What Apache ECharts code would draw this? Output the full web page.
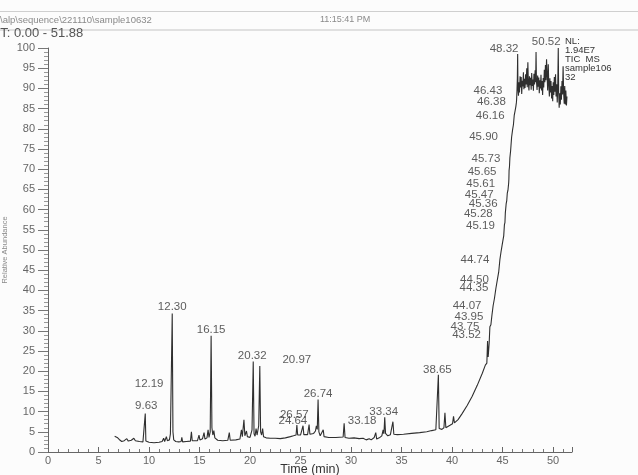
<!DOCTYPE html>
<html>
<head>
<meta charset="utf-8">
<script src="https://cdn.jsdelivr.net/npm/echarts@6/dist/echarts.min.js"></script>
<style>
html,body{margin:0;padding:0;background:#fcfcfc;}
#chart{width:638px;height:475px;}
</style>
</head>
<body>
<div id="chart"></div>
<script>
// TIC trace of sample 10632: retention time (min) and relative abundance (%)
const traceTime = [
  6.60, 6.85, 7.05, 7.30, 7.55, 7.80, 7.95, 8.25, 8.50, 8.65, 9.05, 9.40, 9.57, 9.63, 9.69,
  10.00, 10.50, 11.00, 11.30, 11.45, 11.55, 11.72, 11.82, 12.02, 12.12, 12.19, 12.30, 12.37, 12.45,
  12.65, 12.95, 13.18, 13.25, 13.33, 13.70, 14.10, 14.20, 14.28, 14.80, 14.95, 15.04, 15.30, 15.45,
  15.54, 15.74, 15.85, 15.94, 16.06, 16.15, 16.23, 16.32, 16.42, 16.52, 16.80, 17.30, 17.80, 17.95,
  18.04, 18.60, 19.00, 19.15, 19.24, 19.40, 19.49, 19.65, 19.74, 20.00, 20.20, 20.32, 20.40, 20.50,
  20.60, 20.70, 20.86, 20.97, 21.05, 21.15, 21.25, 21.34, 21.60, 22.00, 22.50, 23.00, 23.50, 24.00,
  24.30, 24.56, 24.64, 24.72, 25.00, 25.25, 25.33, 25.70, 25.85, 25.93, 26.30, 26.48, 26.57, 26.66,
  26.74, 26.82, 26.95, 27.25, 27.33, 27.80, 28.50, 29.22, 29.32, 29.41, 29.80, 30.30, 30.80, 31.20,
  31.50, 31.80, 32.00, 32.30, 32.45, 32.54, 32.80, 33.05, 33.18, 33.26, 33.34, 33.42, 33.55, 33.64,
  33.90, 34.05, 34.15, 34.24, 34.60, 35.20, 36.00, 36.80, 37.50, 38.00, 38.40, 38.57, 38.65, 38.73,
  39.00, 39.20, 39.30, 39.39, 39.80, 40.05, 40.15, 40.24, 40.60, 41.00, 41.50, 42.00, 42.50, 43.00,
  43.30, 43.45, 43.52, 43.58, 43.68, 43.75, 43.85, 43.95, 44.01, 44.07, 44.20, 44.35, 44.42, 44.50,
  44.62, 44.74, 44.85, 44.95, 45.05, 45.12, 45.19, 45.24, 45.28, 45.32, 45.36, 45.42, 45.47, 45.54,
  45.61, 45.63, 45.65, 45.69, 45.73, 45.80, 45.90, 46.00, 46.08, 46.16, 46.25, 46.32, 46.38, 46.40,
  46.43, 46.47, 46.50, 46.53, 46.58, 46.63, 46.68, 46.74, 46.79, 46.85, 46.90, 46.96, 47.01, 47.07,
  47.12, 47.18, 47.23, 47.29, 47.34, 47.40, 47.45, 47.51, 47.56, 47.62, 47.67, 47.73, 47.78, 47.84,
  47.89, 47.95, 48.00, 48.06, 48.11, 48.17, 48.23, 48.28, 48.32, 48.36, 48.42, 48.48, 48.53, 48.59,
  48.64, 48.70, 48.75, 48.81, 48.86, 48.92, 48.97, 49.03, 49.08, 49.14, 49.19, 49.25, 49.30, 49.36,
  49.42, 49.47, 49.53, 49.58, 49.64, 49.69, 49.75, 49.80, 49.86, 49.91, 49.97, 50.02, 50.08, 50.13,
  50.19, 50.25, 50.30, 50.36, 50.42, 50.47, 50.52, 50.56, 50.61, 50.67, 50.72, 50.78, 50.83, 50.89,
  50.94, 51.00, 51.05, 51.11, 51.16, 51.22, 51.27, 51.33, 51.38
];
const traceAbund = [
  3.9, 3.6, 3.1, 2.6, 2.8, 3.3, 2.7, 2.9, 3.4, 2.8, 2.6, 2.5, 2.7, 9.5, 2.7,
  2.4, 2.3, 2.4, 2.6, 3.4, 2.6, 3.8, 2.8, 3.0, 4.5, 16.0, 34.3, 5.0, 3.0,
  2.6, 2.5, 2.6, 3.6, 2.5, 2.6, 2.7, 5.0, 2.8, 2.8, 4.2, 3.0, 3.3, 4.8,
  3.2, 3.5, 5.5, 3.6, 5.0, 28.8, 6.0, 4.2, 5.3, 3.5, 2.9, 2.8, 2.9, 4.8,
  2.9, 3.0, 3.2, 5.5, 3.8, 8.0, 4.0, 5.2, 3.8, 3.6, 5.5, 22.4, 4.5, 3.9,
  5.8, 4.2, 6.5, 21.3, 5.0, 4.2, 5.8, 3.8, 3.5, 3.4, 3.4, 3.3, 3.5, 3.8,
  4.0, 4.2, 6.7, 4.2, 4.2, 6.5, 4.3, 4.3, 6.8, 4.4, 4.6, 5.2, 6.5, 5.6,
  13.0, 5.0, 4.0, 5.5, 3.8, 3.6, 3.6, 3.7, 7.1, 3.6, 3.4, 3.5, 3.3, 3.4,
  3.0, 3.3, 3.0, 3.6, 4.8, 3.2, 3.5, 4.0, 5.5, 4.5, 8.6, 4.6, 4.8, 4.0,
  4.3, 4.5, 7.5, 4.4, 4.3, 4.4, 4.6, 4.8, 5.0, 5.3, 5.5, 5.6, 19.1, 5.8,
  5.6, 6.0, 9.7, 6.0, 6.6, 7.0, 8.8, 7.2, 8.0, 9.5, 11.5, 13.8, 16.5, 19.5,
  21.5, 22.0, 27.5, 23.5, 27.0, 31.0, 31.5, 33.8, 33.5, 36.2, 38.0, 40.6, 40.8, 42.8,
  44.5, 47.6, 49.5, 51.0, 52.5, 53.5, 56.3, 56.8, 59.2, 59.6, 61.4, 62.2, 64.0, 64.8,
  66.6, 67.5, 69.7, 70.6, 72.8, 74.5, 77.9, 79.8, 81.0, 83.3, 84.5, 85.5, 86.6, 87.5,
  89.3, 92.5, 98.5, 90.0, 88.2, 91.5, 89.0, 93.0, 90.2, 92.8, 88.6, 91.9, 90.5, 94.0,
  89.8, 92.4, 90.1, 93.5, 91.0, 95.0, 90.3, 96.5, 91.2, 89.5, 93.0, 90.8, 92.6, 89.7,
  93.8, 90.6, 92.2, 89.4, 93.6, 91.0, 94.5, 91.5, 99.0, 91.8, 89.6, 93.2, 90.4, 92.7,
  88.8, 92.0, 90.0, 93.4, 89.5, 91.8, 88.4, 92.6, 90.2, 94.6, 91.5, 95.8, 92.0, 97.2,
  93.0, 89.5, 96.0, 91.2, 88.0, 92.5, 89.0, 91.8, 87.5, 90.6, 86.8, 91.5, 88.4, 92.8,
  89.2, 93.5, 88.0, 91.0, 86.5, 90.4, 100.0, 89.0, 85.2, 88.8, 86.0, 90.5, 87.2, 91.8,
  88.5, 95.5, 89.0, 86.2, 90.6, 86.0, 89.5, 85.8, 88.0
];

// Retention times that carry a peak label
const peakRT = [
  9.63, 12.19, 12.30, 16.15, 20.32, 20.97, 24.64, 26.57, 26.74, 33.18, 33.34, 38.65,
  43.52, 43.75, 43.95, 44.07, 44.35, 44.50, 44.74, 45.19, 45.28, 45.36, 45.47, 45.61,
  45.65, 45.73, 45.90, 46.16, 46.38, 46.43, 48.32, 50.52
];

// Axis extents and tick steps
const timeRange = [0, 51.88];
const timeStep = 5;
const abundRange = [0, 100];
const abundStep = 5;

// Header and annotation text
const headerPath = '\\alp\\sequence\\221110\\sample10632';
const headerTime = '11:15:41 PM';
const rtRangeText = 'RT: 0.00 - 51.88';
const infoLines = ['NL:', '1.94E7', 'TIC  MS', 'sample106', '32'];

// Where each peak label sits relative to its apex (pixels)
const labelShift = {
  '9.63': [1, -8], '12.19': [-22, -4], '12.30': [0, -7], '16.15': [0, -6],
  '20.32': [-1, -6], '20.97': [37, -6], '24.64': [-4, -4], '26.57': [-22, -11],
  '26.74': [0, -6], '33.18': [-21, -9], '33.34': [-1, -5], '38.65': [-1, -5],
  '43.52': [-21, -6], '43.75': [-25, 0], '43.95': [-23, 1], '44.07': [-26, 0],
  '44.35': [-22, 0], '44.50': [-23, 1], '44.74': [-25, 0], '45.19': [-24, 1],
  '45.28': [-27, 1], '45.36': [-23, 0], '45.47': [-28, 1], '45.61': [-28, 1],
  '45.65': [-27, 1], '45.73': [-24, 1], '45.90': [-28, 0], '46.16': [-24, 0],
  '46.38': [-25, 0], '46.43': [-29, 0], '48.32': [-32, -3], '50.52': [-12, -6]
};

const FONT = 'Liberation Sans, Arial, sans-serif';

const lineData = traceTime.map((t, i) => [t, traceAbund[i]]);
const labelData = peakRT.map(rt => {
  const idx = traceTime.indexOf(rt);
  const txt = rt.toFixed(2);
  return {
    value: [rt, traceAbund[idx]],
    label: { offset: labelShift[txt] || [0, -7] },
    name: txt
  };
});

const chart = echarts.init(document.getElementById('chart'), null, { renderer: 'canvas' });

const infoGraphics = infoLines.map((s, i) => ({
  type: 'text', left: 565, top: 36.5 + i * 9,
  style: { text: s, font: '9.5px ' + FONT, fill: '#333' }
}));

chart.setOption({
  animation: false,
  backgroundColor: '#fcfcfc',
  grid: { left: 48, right: 66, top: 48, bottom: 23, containLabel: false, outerBoundsMode: 'none' },
  xAxis: {
    type: 'value', min: timeRange[0], max: timeRange[1], interval: timeStep,
    name: 'Time (min)', nameLocation: 'middle', nameGap: 11, nameMoveOverlap: false,
    nameTextStyle: { fontFamily: FONT, fontSize: 12.5, color: '#333', verticalAlign: 'top' },
    axisLine: { show: true, onZero: false, lineStyle: { color: '#666', width: 1 } },
    axisTick: { show: true, inside: true, length: 5, lineStyle: { color: '#666' } },
    minorTick: { show: true, splitNumber: 5, length: 3, lineStyle: { color: '#777' } },
    axisLabel: { fontFamily: FONT, fontSize: 11, color: '#666', margin: 3, showMaxLabel: false },
    splitLine: { show: false }
  },
  yAxis: {
    type: 'value', min: abundRange[0], max: abundRange[1], interval: abundStep,
    name: 'Relative Abundance', nameLocation: 'middle', nameGap: 39, nameRotate: 90,
    nameMoveOverlap: false,
    nameTextStyle: { fontFamily: FONT, fontSize: 7.5, color: '#8a8a8a' },
    axisLine: { show: true, lineStyle: { color: '#666', width: 1 } },
    axisTick: { show: true, length: 10, lineStyle: { color: '#777' } },
    minorTick: { show: true, splitNumber: 5, length: 4, lineStyle: { color: '#999' } },
    axisLabel: { fontFamily: FONT, fontSize: 11, color: '#666', margin: 13 },
    splitLine: { show: false }
  },
  series: [
    {
      type: 'line', data: lineData, showSymbol: false, symbol: 'none',
      lineStyle: { color: '#2f2f2f', width: 1.1 }, z: 2
    },
    {
      type: 'scatter', data: labelData, symbolSize: 0,
      itemStyle: { color: 'rgba(0,0,0,0)' },
      label: {
        show: true, position: 'inside', formatter: p => p.name,
        fontFamily: FONT, fontSize: 11.5, color: '#333',
        align: 'center', verticalAlign: 'middle'
      },
      z: 3
    }
  ],
  graphic: [
    { type: 'line', shape: { x1: 0, y1: 11.5, x2: 638, y2: 11.5 }, style: { stroke: '#cfcfcf', lineWidth: 1 } },
    { type: 'line', shape: { x1: 0, y1: 30, x2: 638, y2: 30 }, style: { stroke: '#c4c4c4', lineWidth: 1 } },
    { type: 'text', left: 0, top: 15.5, style: { text: headerPath, font: '9.5px ' + FONT, fill: '#8a8a8a' } },
    { type: 'text', left: 320, top: 15.5, style: { text: headerTime, font: '9px ' + FONT, fill: '#8a8a8a' } },
    { type: 'text', left: -9, top: 27, style: { text: rtRangeText, font: '13px ' + FONT, fill: '#555' } }
  ].concat(infoGraphics)
});
</script>
</body>
</html>
